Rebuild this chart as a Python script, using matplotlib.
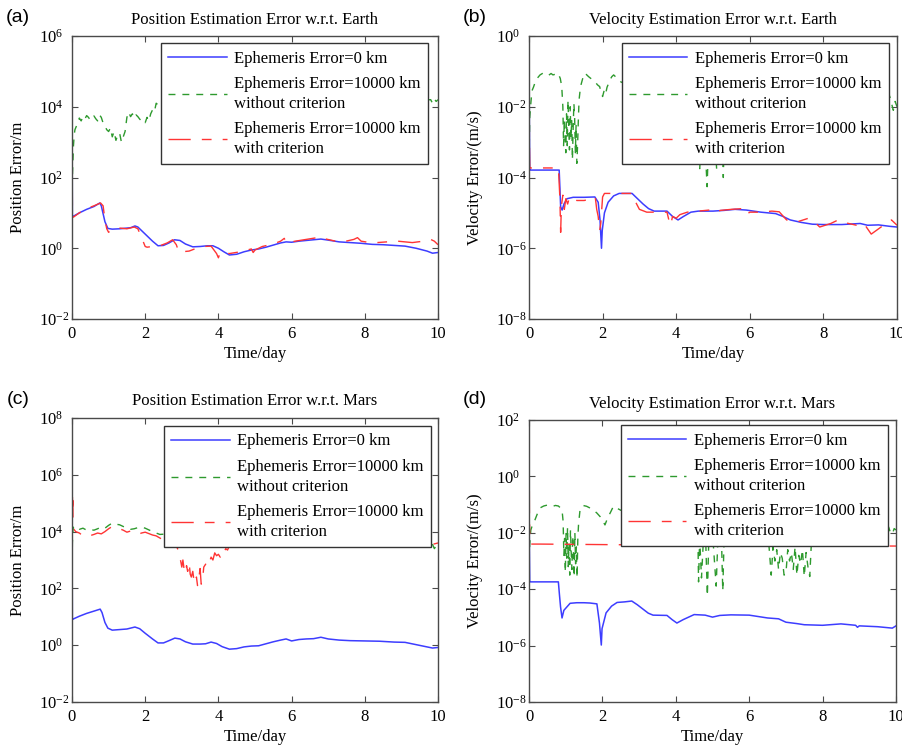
import matplotlib.pyplot as plt
import numpy as np
from matplotlib.ticker import NullLocator, LogFormatterMathtext

plt.rcParams['font.family'] = ['Liberation Serif', 'DejaVu Serif']
plt.rcParams['mathtext.fontset'] = 'custom'
plt.rcParams['mathtext.rm'] = 'Liberation Serif'

# all error values are stored as log10 exponents, time in days

# (a) position error w.r.t. Earth
a_blue_t = [0, 0.01, 0.03, 0.2, 0.4, 0.6, 0.76, 0.8, 0.9, 0.98,
            1.1, 1.3, 1.5, 1.6, 1.72, 1.8, 2.0, 2.2, 2.35, 2.5,
            2.65, 2.8, 2.95, 3.1, 3.3, 3.5, 3.7, 3.85, 4.0, 4.15,
            4.3, 4.5, 4.7, 4.9, 5.1, 5.3, 5.5, 5.7, 5.85, 6.0,
            6.2, 6.4, 6.6, 6.8, 7.0, 7.3, 7.6, 7.9, 8.2, 8.5,
            8.8, 9.1, 9.4, 9.7, 9.85, 10]
a_blue = [4.3, 0.88, 0.9, 1.0, 1.1, 1.18, 1.28, 1.2, 0.75, 0.56,
          0.54, 0.55, 0.57, 0.58, 0.63, 0.6, 0.4, 0.2, 0.07, 0.08,
          0.15, 0.24, 0.22, 0.12, 0.04, 0.05, 0.07, 0.07, 0.0, -0.1,
          -0.19, -0.17, -0.1, -0.05, -0.02, 0.03, 0.09, 0.15, 0.18, 0.17,
          0.2, 0.22, 0.24, 0.26, 0.23, 0.18, 0.16, 0.14, 0.11, 0.1,
          0.08, 0.06, 0.0, -0.08, -0.14, -0.12]
a_green_t = [0, 0.02, 0.04, 0.06, 0.08, 0.12, 0.16, 0.2, 0.25, 0.3,
             0.35, 0.4, 0.45, 0.5, 0.55, 0.6, 0.65, 0.7, 0.75, 0.8,
             0.85, 0.9, 0.95, 1.0, 1.05, 1.1, 1.15, 1.2, 1.25, 1.3,
             1.35, 1.4, 1.45, 1.5, 1.55, 1.6, 1.65, 1.7, 1.75, 1.8,
             1.85, 1.9, 1.95, 2.0, 2.05, 2.1, 2.15, 2.2, 2.25, 2.3,
             2.4, 3.0, 4.0, 5.0, 6.0, 7.0, 8.0, 9.0, 9.8, 9.85,
             9.9, 9.95, 10]
a_green = [1.7, 2.3, 2.9, 3.2, 3.35, 3.45, 3.55, 3.68, 3.6, 3.72,
           3.65, 3.75, 3.7, 3.62, 3.7, 3.74, 3.66, 3.6, 3.77, 3.7,
           3.54, 3.45, 3.35, 3.3, 3.4, 3.15, 3.3, 3.05, 3.2, 3.26,
           3.0, 3.15, 3.3, 3.7, 3.85, 3.72, 3.8, 3.68, 3.77, 3.72,
           3.65, 3.6, 3.63, 3.55, 3.7, 3.6, 3.8, 3.91, 3.85, 4.1,
           4.0, 4.05, 4.1, 4.05, 4.15, 4.1, 4.2, 4.15, 4.2, 4.1,
           4.22, 4.15, 4.2]
a_red_t = [0, 0.005, 0.01, 0.02, 0.04, 0.2, 0.4, 0.6, 0.78, 0.85,
           0.9, 0.95, 1.0, 1.1, 1.3, 1.5, 1.7, 1.8, 1.9, 2.0,
           2.05, 2.2, 2.4, 2.6, 2.75, 2.85, 2.9, 2.95, 3.0, 3.2,
           3.4, 3.6, 3.8, 3.95, 4.0, 4.05, 4.3, 4.6, 4.9, 4.95,
           5.0, 5.2, 5.5, 5.7, 5.8, 5.85, 6.1, 6.4, 6.7, 6.8,
           6.9, 7.2, 7.4, 7.7, 7.8, 7.9, 8.2, 8.6, 8.9, 9.3,
           9.6, 9.8, 9.9, 10]
a_red = [4.9, 2.5, 1.2, 0.9, 0.88, 1.0, 1.12, 1.2, 1.28, 1.2,
         0.8, 0.55, 0.45, 0.55, 0.57, 0.55, 0.6, 0.55, 0.3, 0.05,
         0.03, 0.05, 0.07, 0.15, 0.24, 0.1, -0.05, -0.12, -0.1, -0.08,
         0.0, 0.05, 0.06, -0.15, -0.27, -0.12, -0.15, -0.1, -0.02, -0.12,
         -0.05, 0.05, 0.12, 0.2, 0.28, 0.15, 0.2, 0.25, 0.3, 0.33,
         0.27, 0.2, 0.18, 0.25, 0.3, 0.2, 0.15, 0.18, 0.2, 0.16,
         0.2, 0.25, 0.2, 0.1]

# (b) velocity error w.r.t. Earth
b_blue_t = [0, 0.01, 0.02, 0.04, 0.4, 0.82, 0.84, 0.86, 0.9, 0.95,
            1.03, 1.2, 1.5, 1.79, 1.88, 1.93, 1.97, 1.99, 2.05, 2.15,
            2.3, 2.45, 2.8, 2.95, 3.1, 3.25, 3.4, 3.75, 3.9, 4.05,
            4.2, 4.4, 4.6, 5.0, 5.3, 5.6, 5.9, 6.3, 6.7, 6.9,
            7.1, 7.4, 7.7, 8.0, 8.5, 9.0, 9.2, 9.5, 9.8, 10]
b_blue = [-0.7, -2.5, -3.79, -3.79, -3.79, -3.79, -4.3, -4.83, -4.92, -4.75,
          -4.6, -4.56, -4.56, -4.55, -4.7, -5.2, -6.0, -5.5, -5.0, -4.7,
          -4.52, -4.45, -4.45, -4.6, -4.75, -4.88, -4.95, -4.95, -5.1, -5.2,
          -5.1, -4.98, -4.95, -4.95, -4.93, -4.9, -4.92, -4.98, -5.02, -5.1,
          -5.2, -5.27, -5.32, -5.33, -5.33, -5.3, -5.35, -5.34, -5.38, -5.4]
b_green_t = [0, 0.02, 0.05, 0.08, 0.12, 0.16, 0.22, 0.3, 0.38, 0.45,
             0.52, 0.6, 0.65, 0.72, 0.79, 0.85, 0.89, 0.92, 0.94, 0.96,
             0.98, 1.0, 1.02, 1.04, 1.06, 1.08, 1.1, 1.12, 1.14, 1.16,
             1.18, 1.2, 1.22, 1.24, 1.26, 1.28, 1.3, 1.32, 1.34, 1.36,
             1.4, 1.47, 1.52, 1.57, 1.62, 1.68, 1.74, 1.8, 1.86, 1.92,
             1.96, 2.0, 2.04, 2.08, 2.12, 2.16, 2.2, 2.25, 2.3, 2.5,
             3.0, 3.5, 4.0, 4.5, 4.6, 4.64, 4.7, 4.78, 4.84, 4.9,
             5.0, 5.1, 5.15, 5.25, 5.28, 5.32, 5.6, 6.0, 7.0, 8.0,
             9.0, 9.5, 9.8, 9.85, 9.9, 9.95, 10]
b_green = [-3.5, -2.3, -1.9, -1.55, -1.45, -1.33, -1.2, -1.1, -1.05, -1.08,
           -1.12, -1.06, -1.1, -1.08, -1.05, -1.2, -1.43, -2.0, -3.1, -2.37,
           -2.85, -3.3, -2.2, -3.1, -1.81, -2.6, -3.22, -2.0, -2.9, -2.37,
           -3.5, -2.6, -1.9, -2.3, -3.3, -2.5, -3.6, -3.1, -2.4, -1.81,
           -1.43, -1.16, -1.05, -1.1, -1.15, -1.2, -1.25, -1.3, -1.38, -1.43,
           -1.6, -1.71, -1.55, -1.65, -1.45, -1.35, -1.24, -1.15, -1.1, -1.3,
           -1.5, -1.6, -1.7, -1.6, -2.5, -3.75, -2.2, -3.0, -4.26, -2.3,
           -2.0, -3.78, -2.2, -2.4, -4.0, -2.1, -1.8, -1.7, -1.6, -1.7,
           -1.7, -1.65, -1.7, -1.9, -2.1, -1.85, -2.0]
b_red_t = [0, 0.005, 0.01, 0.02, 0.03, 0.3, 0.6, 0.8, 0.84, 0.86,
           0.88, 0.92, 0.96, 1.0, 1.05, 1.1, 1.3, 1.5, 1.7, 1.8,
           1.84, 1.88, 1.92, 1.95, 2.0, 2.05, 2.2, 2.5, 2.8, 2.9,
           3.0, 3.2, 3.5, 3.75, 3.8, 3.85, 3.9, 4.0, 4.1, 4.3,
           4.6, 4.9, 5.0, 5.2, 5.5, 5.8, 5.9, 6.0, 6.3, 6.6,
           6.8, 7.0, 7.3, 7.6, 7.8, 7.9, 8.2, 8.4, 8.6, 8.9,
           9.1, 9.3, 9.5, 9.7, 9.85, 10]
b_red = [-0.1, -1.5, -3.0, -3.73, -3.73, -3.73, -3.73, -3.73, -4.6, -5.55,
         -4.8, -4.5, -4.9, -4.6, -4.75, -4.55, -4.65, -4.65, -4.6, -4.55,
         -4.9, -5.1, -5.5, -5.3, -4.55, -4.45, -4.45, -4.45, -4.45, -4.7,
         -4.9, -4.98, -4.98, -4.98, -5.2, -5.35, -5.1, -5.15, -5.05, -4.98,
         -4.95, -4.92, -5.0, -4.93, -4.9, -4.88, -5.05, -4.98, -4.98, -4.95,
         -4.97, -5.2, -5.25, -5.15, -5.3, -5.4, -5.3, -5.2, -5.28, -5.35,
         -5.3, -5.6, -5.45, -5.3, -5.2, -5.35]

# (c) position error w.r.t. Mars
c_blue_t = [0, 0.01, 0.03, 0.2, 0.4, 0.6, 0.77, 0.82, 0.9, 0.98,
            1.1, 1.3, 1.5, 1.72, 1.85, 2.0, 2.2, 2.35, 2.5, 2.65,
            2.81, 2.95, 3.1, 3.3, 3.5, 3.65, 3.8, 3.95, 4.1, 4.3,
            4.5, 4.7, 4.9, 5.1, 5.3, 5.5, 5.7, 5.85, 6.0, 6.2,
            6.4, 6.6, 6.8, 7.0, 7.3, 7.6, 8.0, 8.4, 8.8, 9.1,
            9.4, 9.7, 9.85, 10]
c_blue = [4.6, 0.9, 0.92, 1.02, 1.12, 1.2, 1.27, 1.15, 0.8, 0.6,
          0.53, 0.55, 0.57, 0.64, 0.58, 0.42, 0.22, 0.08, 0.08, 0.16,
          0.25, 0.22, 0.12, 0.04, 0.04, 0.05, 0.11, 0.06, -0.05, -0.14,
          -0.12, -0.06, -0.03, -0.02, 0.05, 0.12, 0.18, 0.22, 0.15, 0.2,
          0.22, 0.23, 0.28, 0.22, 0.18, 0.16, 0.15, 0.14, 0.11, 0.1,
          0.02, -0.06, -0.1, -0.08]
c_green_t = [0, 0.01, 0.03, 0.06, 0.1, 0.15, 0.2, 0.3, 0.4, 0.5,
             0.6, 0.7, 0.8, 0.9, 1.0, 1.1, 1.2, 1.3, 1.4, 1.5,
             1.6, 1.7, 1.8, 1.9, 2.0, 2.1, 2.2, 2.3, 2.4, 3.0,
             4.0, 5.0, 6.0, 7.0, 8.0, 9.0, 9.7, 9.8, 9.85, 9.9,
             9.95, 10]
c_green = [2.0, 3.6, 4.16, 4.1, 4.15, 4.12, 4.08, 4.12, 4.05, 4.07,
           4.05, 4.1, 4.16, 4.12, 4.22, 4.3, 4.26, 4.24, 4.18, 4.12,
           4.08, 4.1, 4.14, 4.16, 4.12, 4.06, 4.0, 3.95, 3.9, 3.95,
           3.9, 3.85, 3.9, 3.85, 3.8, 3.75, 3.7, 3.65, 3.55, 3.4,
           3.5, 3.62]
c_red_t = [0, 0.004, 0.008, 0.012, 0.016, 0.02, 0.025, 0.03, 0.04, 0.1,
           0.2, 0.3, 0.4, 0.5, 0.6, 0.7, 0.8, 0.9, 1.0, 1.1,
           1.2, 1.3, 1.4, 1.5, 1.6, 1.7, 1.8, 1.9, 2.0, 2.1,
           2.2, 2.3, 2.5, 2.7, 2.85, 2.9, 2.95, 3.0, 3.03, 3.06,
           3.1, 3.13, 3.16, 3.2, 3.23, 3.26, 3.3, 3.33, 3.36, 3.4,
           3.43, 3.46, 3.5, 3.53, 3.56, 3.6, 3.65, 3.7, 3.75, 3.8,
           3.85, 3.9, 3.95, 4.0, 4.05, 4.1, 4.15, 4.2, 4.25, 4.3,
           4.5, 5.0, 6.0, 7.0, 8.0, 9.0, 9.7, 9.85, 10]
c_red = [3.0, 6.0, 4.6, 5.2, 4.7, 5.1, 4.8, 4.2, 4.1, 4.0,
         3.95, 3.85, 3.82, 3.86, 3.9, 3.95, 3.92, 4.0, 4.1, 4.18,
         4.15, 4.1, 4.05, 3.98, 4.02, 3.95, 3.9, 3.95, 3.98, 3.93,
         3.88, 3.85, 3.7, 3.6, 3.5, 3.35, 3.1, 2.75, 3.0, 2.7,
         2.54, 2.8, 2.6, 2.9, 2.5, 2.4, 2.6, 2.3, 2.18, 2.4,
         2.1, 2.3, 2.7, 2.15, 2.2, 2.75, 2.85, 3.0, 2.9, 3.1,
         3.0, 3.25, 3.15, 3.2, 3.1, 3.3, 3.25, 3.4, 3.35, 3.5,
         3.7, 3.8, 3.85, 3.8, 3.85, 3.8, 3.7, 3.55, 3.6]

# (d) velocity error w.r.t. Mars
d_blue_t = [0, 0.01, 0.02, 0.04, 0.4, 0.8, 0.83, 0.86, 0.9, 0.95,
            1.12, 1.3, 1.5, 1.66, 1.85, 1.92, 1.97, 1.99, 2.1, 2.25,
            2.4, 2.6, 2.8, 2.95, 3.1, 3.25, 3.38, 3.76, 3.9, 4.03,
            4.2, 4.5, 4.8, 5.0, 5.2, 5.5, 6.0, 6.5, 6.8, 7.0,
            7.3, 7.5, 8.0, 8.5, 8.9, 8.95, 9.0, 9.5, 9.9, 10]
d_blue = [-0.37, -2.5, -3.74, -3.74, -3.74, -3.74, -4.2, -4.63, -5.02, -4.75,
          -4.5, -4.48, -4.48, -4.49, -4.52, -5.2, -5.98, -5.4, -4.84, -4.6,
          -4.47, -4.45, -4.42, -4.55, -4.7, -4.85, -4.92, -4.93, -5.08, -5.2,
          -5.08, -4.9, -4.92, -4.99, -4.93, -4.91, -4.92, -5.02, -5.05, -5.17,
          -5.22, -5.26, -5.28, -5.23, -5.28, -5.35, -5.3, -5.33, -5.38, -5.3]
d_green_t = [0, 0.02, 0.05, 0.1, 0.16, 0.22, 0.3, 0.4, 0.49, 0.57,
             0.65, 0.72, 0.8, 0.86, 0.9, 0.93, 0.95, 0.97, 0.99, 1.01,
             1.03, 1.05, 1.07, 1.09, 1.11, 1.13, 1.15, 1.17, 1.19, 1.21,
             1.23, 1.25, 1.27, 1.29, 1.31, 1.33, 1.35, 1.39, 1.47, 1.57,
             1.66, 1.75, 1.85, 1.94, 2.0, 2.07, 2.12, 2.16, 2.23, 2.3,
             2.5, 3.0, 3.5, 4.0, 4.5, 4.6, 4.62, 4.65, 4.7, 4.75,
             4.82, 4.86, 4.9, 5.0, 5.1, 5.15, 5.25, 5.28, 5.32, 5.5,
             6.0, 6.5, 6.6, 6.65, 6.7, 6.75, 6.8, 6.85, 6.9, 6.95,
             7.0, 7.05, 7.1, 7.15, 7.2, 7.25, 7.3, 7.35, 7.4, 7.45,
             7.5, 7.55, 7.6, 7.65, 7.7, 8.0, 9.0, 9.7, 9.8, 9.85,
             9.9, 9.95, 10]
d_green = [-3.0, -2.4, -1.9, -1.7, -1.55, -1.35, -1.12, -1.05, -1.02, -1.06,
           -1.06, -1.03, -1.05, -1.12, -1.19, -1.6, -2.8, -2.2, -3.4, -2.0,
           -2.9, -1.8, -3.2, -2.4, -3.5, -1.9, -2.7, -3.3, -2.1, -2.6,
           -3.57, -2.0, -3.1, -2.5, -3.6, -2.2, -1.7, -1.19, -1.03, -1.06,
           -1.12, -1.19, -1.3, -1.43, -1.55, -1.72, -1.55, -1.43, -1.25, -1.06,
           -1.2, -1.3, -1.4, -1.4, -1.5, -2.0, -3.74, -2.2, -3.6, -2.3,
           -2.5, -4.24, -2.2, -2.0, -3.89, -2.1, -2.5, -4.06, -2.0, -1.6,
           -1.5, -1.8, -3.5, -2.5, -3.0, -2.6, -3.3, -2.7, -2.9, -3.5,
           -3.45, -2.6, -3.0, -2.7, -3.3, -2.5, -3.5, -2.8, -3.1, -2.6,
           -3.55, -2.7, -3.2, -3.55, -2.2, -1.6, -1.6, -1.7, -1.8, -2.0,
           -2.05, -1.85, -1.9]
d_red_t = [0, 0.004, 0.008, 0.012, 0.02, 0.03, 0.3, 5.0, 10]
d_red = [0.2, -0.8, -0.2, -1.4, -2.0, -2.4, -2.4, -2.45, -2.47]

titles = ['Position Estimation Error w.r.t. Earth',
          'Velocity Estimation Error w.r.t. Earth',
          'Position Estimation Error w.r.t. Mars',
          'Velocity Estimation Error w.r.t. Mars']
ylabels = ['Position Error/m', 'Velocity Error/(m/s)',
           'Position Error/m', 'Velocity Error/(m/s)']
panel_tags = ['(a)', '(b)', '(c)', '(d)']
ylims = [(-2, 6), (-8, 0), (-2, 8), (-8, 2)]
legend_labels = ['Ephemeris Error=0 km',
                 'Ephemeris Error=10000 km\nwithout criterion',
                 'Ephemeris Error=10000 km\nwith criterion']

series = [
    (a_blue_t, a_blue, a_green_t, a_green, a_red_t, a_red),
    (b_blue_t, b_blue, b_green_t, b_green, b_red_t, b_red),
    (c_blue_t, c_blue, c_green_t, c_green, c_red_t, c_red),
    (d_blue_t, d_blue, d_green_t, d_green, d_red_t, d_red),
]

W, H = 903, 748
# axes boxes in pixels: left, top, right, bottom
boxes = [(72, 36, 438, 319), (529, 36, 897, 319),
         (72, 418, 438, 702), (529, 420, 896, 702)]
legend_anchor = [(0.973, 0.975), (0.978, 0.975), (0.981, 0.972), (0.978, 0.982)]
tag_pos = [(6, 17), (463, 17), (7, 399), (463, 399)]

blue = '#3d3dff'
green = '#2e9a2e'
red = '#ff3434'
frame = '#4a4a4a'

fig = plt.figure(figsize=(W / 100, H / 100), dpi=100)

for i in range(4):
    l, t, r, b = boxes[i]
    ax = fig.add_axes([l / W, 1 - b / H, (r - l) / W, (b - t) / H])
    bt, bv, gt, gv, rt, rv = series[i]

    hb, = ax.plot(bt, 10.0 ** np.array(bv), color=blue, lw=1.1)
    hg, = ax.plot(gt, 10.0 ** np.array(gv), color=green, lw=1.0,
                  dashes=(5, 5))
    hr, = ax.plot(rt, 10.0 ** np.array(rv), color=red, lw=1.0,
                  dashes=(16, 8, 7, 8), zorder=1.9 if i == 2 else 2.1)

    lo, hi = ylims[i]
    ax.set_yscale('log')
    ax.set_xlim(0, 10)
    ax.set_ylim(10.0 ** lo, 10.0 ** hi)
    ax.set_xticks([0, 2, 4, 6, 8, 10])
    ax.set_yticks([10.0 ** k for k in range(lo, hi + 1, 2)])
    ax.yaxis.set_minor_locator(NullLocator())
    ax.yaxis.set_major_formatter(LogFormatterMathtext())
    ax.tick_params(direction='in', top=True, right=True, length=4,
                   width=0.8, color=frame, labelsize=12, pad=5)
    # "10" of every power label starts at the same x, exponent trails right
    ax.tick_params(axis='y', pad=24)
    plt.setp(ax.get_yticklabels(), ha='left')
    for s in ax.spines.values():
        s.set_color(frame)
        s.set_linewidth(1.0)

    ax.set_title(titles[i], fontsize=12, pad=9)
    ax.set_xlabel('Time/day', fontsize=12, labelpad=3)
    ax.set_ylabel(ylabels[i], fontsize=12, labelpad=9)

    leg = ax.legend([hb, hg, hr], legend_labels, loc='upper right',
                    bbox_to_anchor=legend_anchor[i], borderaxespad=0,
                    fancybox=False, edgecolor='#333333', framealpha=1,
                    fontsize=12, handlelength=3.5, handletextpad=0.45,
                    labelspacing=0.55, borderpad=0.45)
    leg.get_frame().set_linewidth(1.0)
    for txt in leg.get_texts():
        txt.set_linespacing(1.33)

    tx, ty = tag_pos[i]
    fig.text(tx / W, 1 - ty / H, panel_tags[i], fontsize=14,
             family='Liberation Sans', ha='left', va='center')

fig.savefig('out.png', dpi=100)
